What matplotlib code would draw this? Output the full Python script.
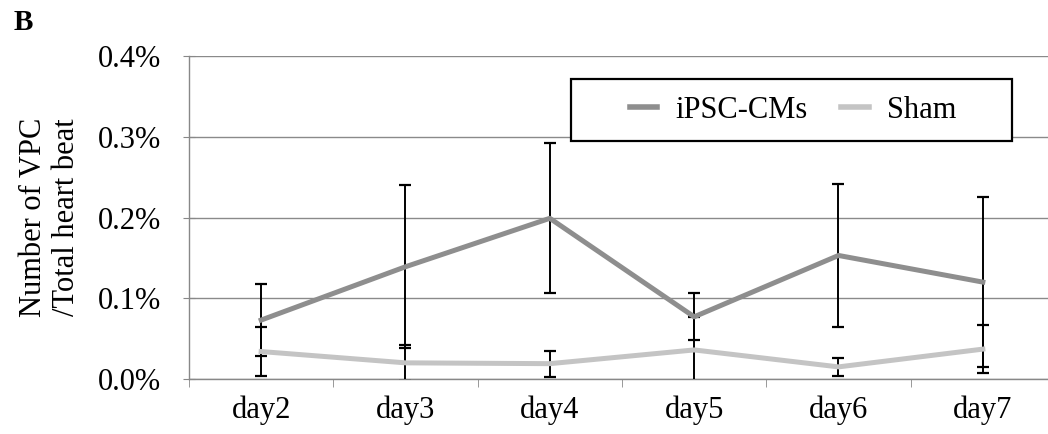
import matplotlib
matplotlib.use("Agg")
import matplotlib.pyplot as plt
from matplotlib.patches import Rectangle
from matplotlib.ticker import FuncFormatter

## Data

days = ["day2", "day3", "day4", "day5", "day6", "day7"]
ipsc_mean = [0.073, 0.139, 0.199, 0.077, 0.153, 0.120]
ipsc_err = [0.045, 0.101, 0.093, 0.029, 0.089, 0.105]
sham_mean = [0.034, 0.020, 0.019, 0.036, 0.015, 0.037]
sham_err = [0.030, 0.022, 0.016, 0.041, 0.011, 0.030]

plt.rcParams["font.family"] = ["Liberation Serif", "DejaVu Serif"]

## Figure and axes

fig = plt.figure(figsize=(10.48, 4.34), dpi=100)
ax = fig.add_axes([189 / 1048, 1 - 379 / 434, 866 / 1048, 323 / 434])

x = list(range(len(days)))

# error bars first, lines on top
ax.errorbar(x, ipsc_mean, yerr=ipsc_err, fmt="none", ecolor="black",
            elinewidth=1.4, capsize=4.5, capthick=1.6, zorder=3)
ax.errorbar(x, sham_mean, yerr=sham_err, fmt="none", ecolor="black",
            elinewidth=1.4, capsize=4.5, capthick=1.6, zorder=3)
ax.plot(x, ipsc_mean, color="#8e8e8e", lw=3.6, label="iPSC-CMs", zorder=4)
ax.plot(x, sham_mean, color="#c4c4c4", lw=3.6, label="Sham", zorder=4)

## Axes styling

ax.set_xlim(-0.5, 5.5)
ax.set_ylim(0, 0.4)
ax.set_yticks([0, 0.1, 0.2, 0.3, 0.4])
ax.yaxis.set_major_formatter(FuncFormatter(lambda v, p: f"{v:.1f}%"))
ax.set_xticks(x)
ax.set_xticklabels(days)
ax.set_xticks([i - 0.5 for i in range(len(days) + 1)], minor=True)
ax.tick_params(axis="x", which="major", length=0, labelsize=22, pad=12)
ax.tick_params(axis="x", which="minor", length=6, color="#888888", direction="out")
ax.tick_params(axis="y", length=8, direction="inout", color="#888888",
               labelsize=22, pad=16)

ax.grid(axis="y", color="#8a8a8a", lw=1.0)
ax.set_axisbelow(True)
for side in ["top", "right"]:
    ax.spines[side].set_visible(False)
for side in ["left", "bottom"]:
    ax.spines[side].set_color("#888888")
    ax.spines[side].set_linewidth(1.0)

ax.set_ylabel("Number of VPC\n/Total heart beat", fontsize=22,
              linespacing=1.2, labelpad=12)

## Legend (frame drawn separately so it can be wider than its content)

box = Rectangle((571 / 1048, 1 - 141 / 434), 441 / 1048, 62 / 434,
                transform=fig.transFigure, facecolor="white",
                edgecolor="black", lw=1.6, zorder=5, clip_on=False)
ax.add_patch(box)

leg = ax.legend(loc="center", bbox_to_anchor=(793 / 1048, 1 - 110 / 434),
                bbox_transform=fig.transFigure, ncol=2, fontsize=22,
                frameon=False, handlelength=0.9, handletextpad=0.6,
                columnspacing=1.1, borderpad=0.0)
for line in leg.get_lines():
    line.set_linewidth(4)
leg.set_zorder(6)

## Panel letter

fig.text(14 / 1048, 1 - 30 / 434, "B", fontsize=21, fontweight="bold")

fig.savefig("out.png", dpi=100)
